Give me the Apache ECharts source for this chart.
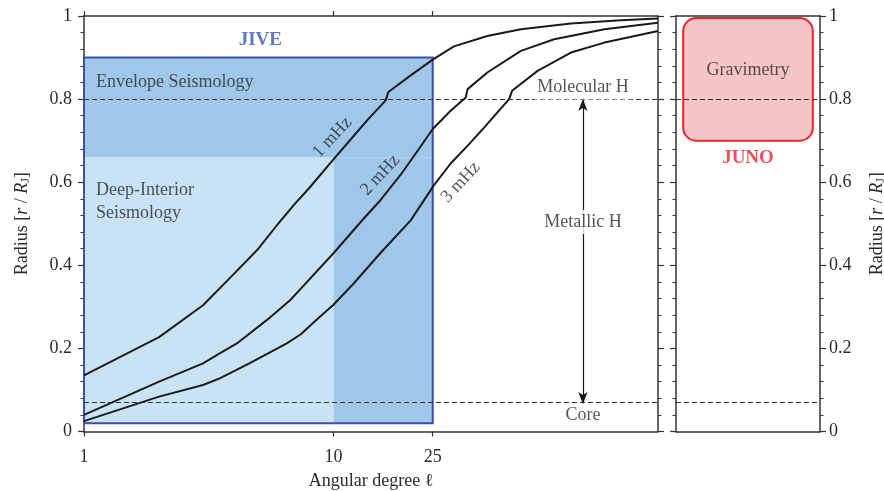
<!DOCTYPE html>
<html>
<head>
<meta charset="utf-8">
<style>html,body{margin:0;padding:0;background:#fff}#c{width:884px;height:491px}</style>
<script src="https://cdn.jsdelivr.net/npm/echarts@6/dist/echarts.min.js"></script>
</head>
<body>
<div id="c"></div>
<script>
// ---- data ----
const curve1mHz = [[1,0.135],[2,0.227],[3,0.304],[4,0.38],[5,0.44],[6,0.50],[7,0.548],[8,0.586],[10,0.655],[12,0.71],[13.7,0.75],[16.2,0.797],[16.6,0.817],[20.4,0.857],[25,0.895],[30.4,0.927],[41.4,0.952],[56.4,0.968],[89.5,0.982],[142,0.99],[200,0.994]];
const curve2mHz = [[1,0.04],[2,0.12],[3,0.164],[3.5,0.188],[4.1,0.212],[5.4,0.268],[6.7,0.316],[7.4,0.344],[10,0.429],[13.2,0.512],[15.4,0.556],[18.6,0.618],[22,0.68],[25,0.728],[29.5,0.772],[33.9,0.804],[34.5,0.824],[41.4,0.864],[56.4,0.916],[76.7,0.944],[122,0.968],[200,0.984]];
const curve3mHz = [[1,0.025],[2,0.084],[3,0.112],[3.5,0.128],[4.6,0.164],[6.5,0.212],[7.4,0.234],[8.6,0.27],[10,0.305],[12,0.355],[15.4,0.429],[20.4,0.508],[25.3,0.593],[29.5,0.645],[34.9,0.691],[40,0.73],[50.6,0.8],[52,0.82],[65.8,0.868],[89.5,0.912],[122,0.936],[200,0.964]];
const xTicks = [1, 10, 25];
const yTicks = [0, 0.2, 0.4, 0.6, 0.8, 1];
const boundaryLines = [0.8, 0.066];           // molecular/metallic H, core
const jiveLight = [[1, 0.02, 10, 0.66]];       // deep-interior seismology
const jiveDark = [[1, 0.66, 25, 0.9], [10, 0.02, 25, 0.66]]; // envelope seismology
const jiveOutline = [[1, 0.02, 25, 0.9]];
const junoBox = [[0.05, 0.70, 0.95, 0.995]];
const metallicArrow = [[100, 0.8], [100, 0.066]];
const curveLabels = [[9.9, 0.708, '1 mHz'], [15.4, 0.617, '2 mHz'], [32.4, 0.60, '3 mHz']];
const textNotes = [[100, 0.828, 'Molecular H'], [100, 0.504, 'Metallic H'], [100, 0.04, 'Core']];
const leftNotes = [[1.117, 0.84, 'Envelope Seismology'], [1.117, 0.553, 'Deep-Interior\nSeismology']];
const jiveTitle = [[5.09, 0.942, 'JIVE']];
const junoNotes = [[0.5, 0.869, 'Gravimetry']];
const junoTitle = [[0.5, 0.658, 'JUNO']];

// ---- chart ----
const FONT = 'Liberation Serif';
const FS = 18;
const TXT = '#2b2b2b';
const AX = '#333';
const chart = echarts.init(document.getElementById('c'));

function rectItem(fill, stroke, lw, r) {
  return function (params, api) {
    const a = api.coord([api.value(0), api.value(1)]);
    const b = api.coord([api.value(2), api.value(3)]);
    const x = Math.min(a[0], b[0]), y = Math.min(a[1], b[1]);
    return { type: 'rect', shape: { x: x, y: y, width: Math.abs(b[0] - a[0]), height: Math.abs(b[1] - a[1]), r: r },
      style: { fill: fill, stroke: stroke, lineWidth: lw } };
  };
}
function notes(arr, xi, yi, lbl, z) {
  return { type: 'scatter', xAxisIndex: xi, yAxisIndex: yi, symbolSize: 0, silent: true, z: z || 6,
    data: arr.map(d => ({ value: [d[0], d[1]], name: d[2] })),
    label: Object.assign({ show: true, position: 'inside', formatter: '{b}', fontFamily: FONT, fontSize: FS, color: TXT }, lbl) };
}
const nameRich = {
  a: { fontFamily: FONT, fontSize: FS, color: TXT },
  i: { fontFamily: FONT, fontSize: FS, fontStyle: 'italic', color: TXT },
  s: { fontFamily: FONT, fontSize: 12, color: TXT, padding: [8, 0, 0, 0] }
};
const yName = '{a|Radius [}{i|r}{a| / }{i|R}{s|J}{a|]}';
function yAx(grid, pos, labels, name, margin, gap) {
  return {
    type: 'value', gridIndex: grid, position: pos, min: 0, max: 1, interval: 0.2,
    axisLine: { show: true, onZero: false, lineStyle: { color: AX, width: 1.5 } },
    axisTick: { show: true, length: 6, lineStyle: { color: AX, width: 1.2 } },
    minorTick: { show: true, splitNumber: 5, length: 3.5, lineStyle: { color: AX, width: 1 } },
    axisLabel: { show: labels, fontFamily: FONT, fontSize: FS, color: TXT, margin: margin || 8, customValues: yTicks },
    splitLine: { show: false }, minorSplitLine: { show: false },
    name: name ? yName : '', nameLocation: 'middle', nameGap: gap || 50, nameRotate: 90,
    nameTextStyle: { rich: nameRich }
  };
}
function xLog(pos, labels) {
  return {
    type: 'log', gridIndex: 0, position: pos, min: 1, max: 200, logBase: 10,
    axisLine: { show: true, onZero: false, lineStyle: { color: AX, width: 1.5 } },
    axisTick: { show: true, length: 5, customValues: xTicks, lineStyle: { color: AX, width: 1.2 } },
    minorTick: { show: false },
    axisLabel: { show: labels, customValues: xTicks, fontFamily: FONT, fontSize: FS, color: TXT, margin: 17 },
    splitLine: { show: false },
    name: labels ? 'Angular degree ℓ' : '', nameLocation: 'middle', nameGap: 41,
    nameTextStyle: { fontFamily: FONT, fontSize: FS, color: TXT }
  };
}
function xPlain(pos) {
  return {
    type: 'value', gridIndex: 1, position: pos, min: 0, max: 1,
    axisLine: { show: true, onZero: false, lineStyle: { color: AX, width: 1.5 } },
    axisTick: { show: false }, axisLabel: { show: false }, splitLine: { show: false }
  };
}
const dashLines = (xi, yi) => ({
  type: 'line', xAxisIndex: xi, yAxisIndex: yi, data: [], z: 3, silent: true,
  markLine: { silent: true, symbol: 'none', label: { show: false },
    lineStyle: { color: '#333', width: 1, type: [5, 3] },
    data: boundaryLines.map(v => ({ yAxis: v })) }
});
const curve = (d) => ({ type: 'line', xAxisIndex: 0, yAxisIndex: 0, data: d, symbol: 'none', z: 5, silent: true,
  lineStyle: { color: '#1a1a1a', width: 2 } });

chart.setOption({
  animation: false,
  grid: [
    { left: 84, top: 16, width: 574, height: 415.5, outerBoundsMode: 'none', containLabel: false },
    { left: 676, top: 16, width: 144, height: 415.5, outerBoundsMode: 'none', containLabel: false }
  ],
  xAxis: [xLog('bottom', true), xLog('top', false), xPlain('bottom'), xPlain('top')],
  yAxis: [yAx(0, 'left', true, true, 12, 52), yAx(0, 'right', false, false), yAx(1, 'left', false, false), yAx(1, 'right', true, true, 9, 47)],
  series: [
    { type: 'custom', xAxisIndex: 0, yAxisIndex: 0, z: 1, silent: true, data: jiveLight, renderItem: rectItem('#c9e3f6', null, 0, 0) },
    { type: 'custom', xAxisIndex: 0, yAxisIndex: 0, z: 1, silent: true, data: jiveDark, renderItem: rectItem('#9ec7ea', null, 0, 0) },
    { type: 'custom', xAxisIndex: 0, yAxisIndex: 0, z: 2, silent: true, data: jiveOutline, renderItem: rectItem('none', '#3a50a8', 2, 0) },
    { type: 'custom', xAxisIndex: 2, yAxisIndex: 2, z: 1, silent: true, data: junoBox, renderItem: rectItem('#f8c5c7', '#e8242c', 2, 13) },
    dashLines(0, 0), dashLines(2, 2),
    { type: 'line', xAxisIndex: 0, yAxisIndex: 0, data: [], z: 4, silent: true,
      markLine: { silent: true, symbol: ['arrow', 'arrow'], symbolSize: [7, 12], label: { show: false },
        lineStyle: { color: '#1a1a1a', width: 1.2, type: 'solid' },
        data: [[{ coord: metallicArrow[0] }, { coord: metallicArrow[1] }]] } },
    curve(curve1mHz), curve(curve2mHz), curve(curve3mHz),
    notes(curveLabels, 0, 0, { rotate: 47 }),
    notes(textNotes, 0, 0, { backgroundColor: '#fff', padding: [3, 3] }, 7),
    notes(leftNotes, 0, 0, { align: 'left', lineHeight: 23 }),
    notes(jiveTitle, 0, 0, { fontWeight: 'bold', color: '#3c56b2', fontSize: 19 }),
    notes(junoNotes, 2, 2, {}),
    notes(junoTitle, 2, 2, { fontWeight: 'bold', color: '#e8242c', fontSize: 19 })
  ]
});
</script>
</body>
</html>
